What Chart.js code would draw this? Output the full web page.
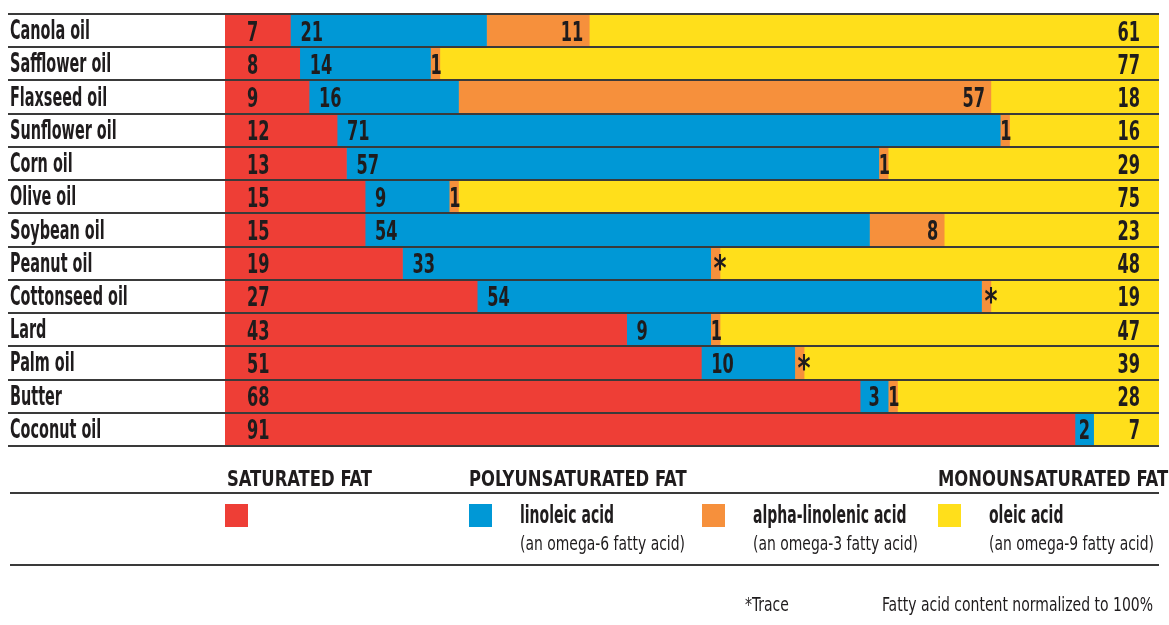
<!DOCTYPE html>
<html>
<head>
<meta charset="utf-8">
<title>Fatty acid content of oils and fats</title>
<script src="https://cdn.jsdelivr.net/npm/chart.js@4.4.1/dist/chart.umd.min.js"></script>
<style>
  html, body { margin: 0; padding: 0; background: #ffffff; }
  #wrap { width: 1169px; height: 625px; }
</style>
</head>
<body>
<div id="wrap"><canvas id="fats" width="1169" height="625"></canvas></div>
<script>
// Fat / oil categories, top to bottom
const oils = ['Canola oil', 'Safflower oil', 'Flaxseed oil', 'Sunflower oil', 'Corn oil', 'Olive oil',
  'Soybean oil', 'Peanut oil', 'Cottonseed oil', 'Lard', 'Palm oil', 'Butter', 'Coconut oil'];

// Percent of total fatty acids
const saturated      = [7, 8, 9, 12, 13, 15, 15, 19, 27, 43, 51, 68, 91];
const linoleic       = [21, 14, 16, 71, 57, 9, 54, 33, 54, 9, 10, 3, 2];
const alphaLinolenic = [11, 1, 57, 1, 1, 1, 8, null, null, 1, null, 1, 0];
const oleic          = [61, 77, 18, 16, 29, 75, 23, 48, 19, 47, 39, 28, 7];

// Rows where alpha-linolenic acid is present only in trace amounts
const traceRows = ['Peanut oil', 'Cottonseed oil', 'Palm oil'];
const TRACE_MARK = '*';
const TRACE_BAR = 1;   // a trace amount is shown as a sliver this wide (percent)

const COLORS = {
  saturated: '#EE3E36',
  linoleic: '#0098D6',
  alpha: '#F6903C',
  oleic: '#FFDF1B',
  ink: '#1f1c1d',
  rule: '#3a3a3a'
};
const FONT = '"Liberation Sans Narrow", "DejaVu Sans Condensed", "Arial Narrow", sans-serif';

// Text styles: the condensed look is obtained by squeezing each style so that
// a sample string takes the given width.
const STYLES = {
  rowName: { size: 26, weight: 'bold',   sample: 'Canola oil', width: 80 },
  value:   { size: 27, weight: 'bold',   sample: '00', width: 22.5 },
  trace:   { size: 36, weight: 'bold',   sample: '*', width: 13 },
  heading: { size: 22, weight: 'bold',   sample: 'SATURATED FAT', width: 145 },
  keyName: { size: 24, weight: 'bold',   sample: 'linoleic acid', width: 94 },
  keyNote: { size: 19, weight: 'normal', sample: '(an omega-6 fatty acid)', width: 165 },
  note:    { size: 19.5, weight: 'normal', sample: 'Fatty acid content normalized to 100%', width: 271 }
};

const alphaBars = alphaLinolenic.map((v, i) => traceRows.includes(oils[i]) ? TRACE_BAR : v);

function styleFont(st) { return `${st.weight} ${st.size}px ${FONT}`; }

function squeeze(ctx, st) {
  if (st.sx === undefined) {
    ctx.save();
    ctx.font = styleFont(st);
    st.sx = st.width / ctx.measureText(st.sample).width;
    ctx.restore();
  }
  return st.sx;
}

// Draws text in one of the styles; returns drawn width
function drawText(ctx, text, x, y, st, align) {
  const sx = squeeze(ctx, st);
  ctx.save();
  ctx.font = styleFont(st);
  ctx.fillStyle = COLORS.ink;
  ctx.textBaseline = 'alphabetic';
  ctx.textAlign = 'left';
  const w = ctx.measureText(text).width * sx;
  const x0 = align === 'right' ? x - w : (align === 'center' ? x - w / 2 : x);
  ctx.translate(x0, y);
  ctx.scale(sx, 1);
  ctx.fillText(text, 0, 0);
  ctx.restore();
  return w;
}

function hRule(ctx, x1, x2, y, width) {
  ctx.save();
  ctx.strokeStyle = COLORS.rule;
  ctx.lineWidth = width || 2;
  ctx.beginPath();
  ctx.moveTo(x1, y);
  ctx.lineTo(x2, y);
  ctx.stroke();
  ctx.restore();
}

// Row names, row rules and the value printed on every segment
const rowsPlugin = {
  id: 'rows',
  afterDatasetsDraw(chart) {
    const { ctx, chartArea, scales } = chart;
    const y = scales.y;
    const half = Math.abs(y.getPixelForValue(1) - y.getPixelForValue(0)) / 2;

    const metas = chart.data.datasets.map((_, i) => chart.getDatasetMeta(i));
    oils.forEach((name, i) => {
      const [red, blue, orange] = metas.map(m => m.data[i]);
      const cy = red.y;
      const num = (t, x, align) => drawText(ctx, t, x, cy + 10, STYLES.value, align);

      num(String(saturated[i]), red.base + 22, 'left');

      if (blue.x - blue.base > 40) num(String(linoleic[i]), blue.base + 10, 'left');
      else num(String(linoleic[i]), (blue.x + blue.base) / 2, 'center');

      if (traceRows.includes(name)) {
        drawText(ctx, TRACE_MARK, orange.x, cy + 17, STYLES.trace, 'center');
      } else if (alphaLinolenic[i]) {
        if (orange.x - orange.base > 40) num(String(alphaLinolenic[i]), orange.x - 6, 'right');
        else num(String(alphaLinolenic[i]), (orange.x + orange.base) / 2 + 1, 'center');
      }

      num(String(oleic[i]), chartArea.right - 19, 'right');

      drawText(ctx, name, 10, cy + 8.5, STYLES.rowName, 'left');
    });

    // rules between rows
    for (let i = 0; i <= oils.length; i++) {
      const yy = i < oils.length ? y.getPixelForValue(i) - half : y.getPixelForValue(oils.length - 1) + half;
      hRule(ctx, 8, chartArea.right, Math.round(yy), 2);
    }
  }
};

// Grouped key and footnotes under the bars
const legendPlugin = {
  id: 'groupedKey',
  afterDraw(chart) {
    const { ctx, chartArea } = chart;
    const ds = chart.data.datasets;
    const right = chartArea.right;
    const headY = 486, ruleY = 493, boxY = 504, boxS = 23, bottomRuleY = 565;

    drawText(ctx, 'SATURATED FAT', chartArea.left + 2, headY, STYLES.heading);
    drawText(ctx, 'POLYUNSATURATED FAT', 469, headY, STYLES.heading);
    drawText(ctx, 'MONOUNSATURATED FAT', 938, headY, STYLES.heading);
    hRule(ctx, 10, right, ruleY, 2);

    const items = [
      { ds: 0, x: chartArea.left, name: null, note: null },
      { ds: 1, x: 469, name: 'linoleic acid', note: '(an omega-6 fatty acid)' },
      { ds: 2, x: 702, name: 'alpha-linolenic acid', note: '(an omega-3 fatty acid)' },
      { ds: 3, x: 938, name: 'oleic acid', note: '(an omega-9 fatty acid)' }
    ];
    items.forEach(it => {
      ctx.fillStyle = ds[it.ds].backgroundColor;
      ctx.fillRect(it.x, boxY, boxS, boxS);
      if (it.name) {
        drawText(ctx, it.name, it.x + 51, 523, STYLES.keyName);
        drawText(ctx, it.note, it.x + 51, 550, STYLES.keyNote);
      }
    });
    hRule(ctx, 10, right, bottomRuleY, 2);

    drawText(ctx, '*Trace', 745, 611, STYLES.note);
    drawText(ctx, 'Fatty acid content normalized to 100%', 1153, 611, STYLES.note, 'right');
  }
};

new Chart(document.getElementById('fats'), {
  type: 'bar',
  data: {
    labels: oils,
    datasets: [
      { label: 'Saturated fat', data: saturated, backgroundColor: COLORS.saturated },
      { label: 'Linoleic acid', data: linoleic, backgroundColor: COLORS.linoleic },
      { label: 'Alpha-linolenic acid', data: alphaBars, backgroundColor: COLORS.alpha },
      { label: 'Oleic acid', data: oleic, backgroundColor: COLORS.oleic }
    ]
  },
  options: {
    indexAxis: 'y',
    responsive: false,
    animation: false,
    layout: { padding: { left: 225, right: 10, top: 14, bottom: 179 } },
    datasets: { bar: { barPercentage: 1, categoryPercentage: 1, borderWidth: 0 } },
    scales: {
      x: { stacked: true, min: 0, max: 100, display: false },
      y: { stacked: true, display: false }
    },
    plugins: { legend: { display: false }, tooltip: { enabled: false } }
  },
  plugins: [rowsPlugin, legendPlugin]
});
</script>
</body>
</html>
